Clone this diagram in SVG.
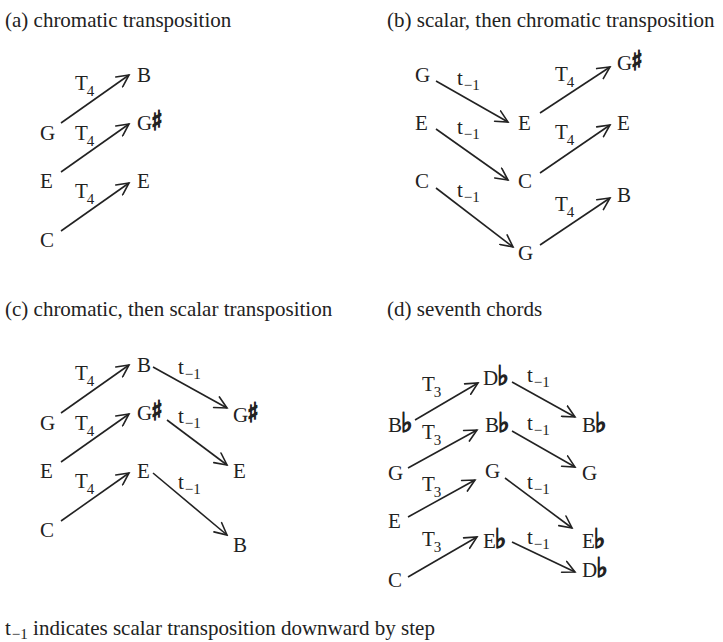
<svg xmlns="http://www.w3.org/2000/svg" width="723" height="642" viewBox="0 0 723 642">
<style>
text{font-family:"Liberation Serif","Times New Roman",serif;font-size:21px;fill:#222}
.sub{font-size:15px}
.acc{font-family:"DejaVu Sans Condensed","DejaVu Sans",sans-serif;font-weight:bold;font-size:27px;stroke:#222;stroke-width:1.3}
.conn line{stroke:#222;stroke-width:1.6;fill:none;marker-end:url(#ah)}
</style>
<defs>
<marker id="ah" markerUnits="userSpaceOnUse" viewBox="-13 -7 15 14" refX="0" refY="0" markerWidth="15" markerHeight="14" orient="auto">
<path d="M-12,-6 L0,0 L-12,6" fill="none" stroke="#222" stroke-width="1.6" stroke-linecap="round" stroke-linejoin="miter"/>
</marker>
</defs>
<rect width="723" height="642" fill="#fff"/>

<g id="titles">
<text x="5" y="27">(a) chromatic transposition</text>
<text x="387" y="27">(b) scalar, then chromatic transposition</text>
<text x="5" y="316">(c) chromatic, then scalar transposition</text>
<text x="387" y="316">(d) seventh chords</text>
<text x="5" y="635">t<tspan class="sub" dx="1" dy="4">−1</tspan><tspan dy="-4"> indicates scalar transposition downward by step</tspan></text>
</g>

<g id="connectors" class="conn">
<line x1="61" y1="123" x2="129" y2="75"/>
<line x1="61" y1="172" x2="129" y2="124"/>
<line x1="61" y1="231" x2="129" y2="183"/>
<line x1="436" y1="81" x2="508" y2="122"/>
<line x1="436" y1="129" x2="508" y2="180"/>
<line x1="436" y1="188" x2="513" y2="247"/>
<line x1="540" y1="113" x2="610" y2="67"/>
<line x1="540" y1="173" x2="610" y2="125"/>
<line x1="540" y1="245" x2="610" y2="198"/>
<line x1="61" y1="413" x2="129" y2="365"/>
<line x1="61" y1="462" x2="129" y2="414"/>
<line x1="61" y1="521" x2="129" y2="473"/>
<line x1="153" y1="367" x2="227" y2="408"/>
<line x1="167" y1="420" x2="227" y2="465"/>
<line x1="153" y1="473" x2="227" y2="535"/>
<line x1="415" y1="420" x2="478" y2="383"/>
<line x1="408" y1="468" x2="477" y2="430"/>
<line x1="408" y1="517" x2="475" y2="480"/>
<line x1="408" y1="577" x2="477" y2="537"/>
<line x1="512" y1="382" x2="575" y2="417"/>
<line x1="512" y1="431" x2="575" y2="467"/>
<line x1="505" y1="478" x2="572" y2="528"/>
<line x1="512" y1="542" x2="575" y2="572"/>
</g>

<g id="labels">
<text x="75" y="90">T<tspan class="sub" dx="-1" dy="6">4</tspan></text>
<text x="75" y="140">T<tspan class="sub" dx="-1" dy="6">4</tspan></text>
<text x="75" y="198">T<tspan class="sub" dx="-1" dy="6">4</tspan></text>
<text x="457" y="85">t<tspan class="sub" dx="1" dy="5">−1</tspan></text>
<text x="457" y="134">t<tspan class="sub" dx="1" dy="5">−1</tspan></text>
<text x="457" y="197">t<tspan class="sub" dx="1" dy="5">−1</tspan></text>
<text x="555" y="81">T<tspan class="sub" dx="-1" dy="6">4</tspan></text>
<text x="555" y="139">T<tspan class="sub" dx="-1" dy="6">4</tspan></text>
<text x="555" y="211">T<tspan class="sub" dx="-1" dy="6">4</tspan></text>
<text x="75" y="380">T<tspan class="sub" dx="-1" dy="6">4</tspan></text>
<text x="75" y="430">T<tspan class="sub" dx="-1" dy="6">4</tspan></text>
<text x="75" y="488">T<tspan class="sub" dx="-1" dy="6">4</tspan></text>
<text x="178" y="374">t<tspan class="sub" dx="1" dy="5">−1</tspan></text>
<text x="178" y="423">t<tspan class="sub" dx="1" dy="5">−1</tspan></text>
<text x="178" y="489">t<tspan class="sub" dx="1" dy="5">−1</tspan></text>
<text x="422" y="391">T<tspan class="sub" dx="-1" dy="6">3</tspan></text>
<text x="422" y="439">T<tspan class="sub" dx="-1" dy="6">3</tspan></text>
<text x="422" y="491">T<tspan class="sub" dx="-1" dy="6">3</tspan></text>
<text x="422" y="546">T<tspan class="sub" dx="-1" dy="6">3</tspan></text>
<text x="527" y="382">t<tspan class="sub" dx="1" dy="5">−1</tspan></text>
<text x="527" y="430">t<tspan class="sub" dx="1" dy="5">−1</tspan></text>
<text x="527" y="489">t<tspan class="sub" dx="1" dy="5">−1</tspan></text>
<text x="527" y="544">t<tspan class="sub" dx="1" dy="5">−1</tspan></text>
</g>

<g id="a-G"><text x="40" y="140">G</text></g>
<g id="a-E"><text x="40" y="188">E</text></g>
<g id="a-C"><text x="40" y="247">C</text></g>
<g id="a-B"><text x="137" y="82">B</text></g>
<g id="a-Gs"><text x="137" y="130">G<tspan class="acc" dx="-1">♯</tspan></text></g>
<g id="a-E2"><text x="137" y="188">E</text></g>

<g id="b-G"><text x="415" y="82">G</text></g>
<g id="b-E"><text x="415" y="130">E</text></g>
<g id="b-C"><text x="415" y="188">C</text></g>
<g id="b-E2"><text x="518" y="130">E</text></g>
<g id="b-C2"><text x="518" y="188">C</text></g>
<g id="b-G2"><text x="518" y="260">G</text></g>
<g id="b-Gs"><text x="617" y="70">G<tspan class="acc" dx="-1">♯</tspan></text></g>
<g id="b-E3"><text x="617" y="130">E</text></g>
<g id="b-B"><text x="617" y="202">B</text></g>

<g id="c-G"><text x="40" y="430">G</text></g>
<g id="c-E"><text x="40" y="478">E</text></g>
<g id="c-C"><text x="40" y="537">C</text></g>
<g id="c-B"><text x="137" y="372">B</text></g>
<g id="c-Gs"><text x="137" y="420">G<tspan class="acc" dx="-1">♯</tspan></text></g>
<g id="c-E2"><text x="137" y="478">E</text></g>
<g id="c-Gs2"><text x="233" y="422">G<tspan class="acc" dx="-1">♯</tspan></text></g>
<g id="c-E3"><text x="233" y="478">E</text></g>
<g id="c-B2"><text x="233" y="552">B</text></g>

<g id="d-Bb"><text x="388" y="432">B<tspan class="acc" dx="-1">♭</tspan></text></g>
<g id="d-G"><text x="388" y="480">G</text></g>
<g id="d-E"><text x="388" y="528">E</text></g>
<g id="d-C"><text x="388" y="587">C</text></g>
<g id="d-Db"><text x="483" y="385">D<tspan class="acc" dx="-1">♭</tspan></text></g>
<g id="d-Bb2"><text x="485" y="432">B<tspan class="acc" dx="-1">♭</tspan></text></g>
<g id="d-G2"><text x="485" y="478">G</text></g>
<g id="d-Eb"><text x="483" y="548">E<tspan class="acc" dx="-1">♭</tspan></text></g>
<g id="d-Bb3"><text x="582" y="432">B<tspan class="acc" dx="-1">♭</tspan></text></g>
<g id="d-G3"><text x="582" y="480">G</text></g>
<g id="d-Eb2"><text x="582" y="548">E<tspan class="acc" dx="-1">♭</tspan></text></g>
<g id="d-Db2"><text x="582" y="577">D<tspan class="acc" dx="-1">♭</tspan></text></g>
</svg>
